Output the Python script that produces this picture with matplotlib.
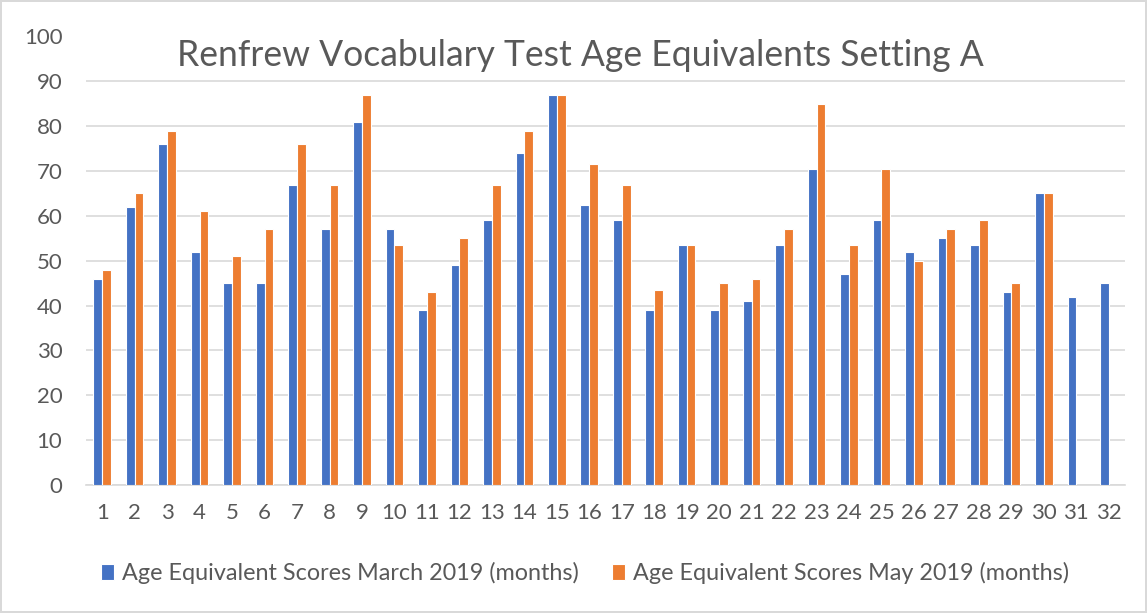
import matplotlib
matplotlib.use("Agg")
import matplotlib.pyplot as plt
import numpy as np

categories = [str(i) for i in range(1, 33)]
march_2019 = [46, 62, 76, 52, 45, 45, 67, 57, 81, 57, 39, 49, 59, 74, 87, 62.5,
              59, 39, 53.5, 39, 41, 53.5, 70.5, 47, 59, 52, 55, 53.5, 43, 65, 42, 45]
may_2019 = [48, 65, 79, 61, 51, 57, 76, 67, 87, 53.5, 43, 55, 67, 79, 87, 71.5,
            67, 43.5, 53.5, 45, 46, 57, 85, 53.5, 70.5, 50, 57, 59, 45, 65, None, None]
series_labels = ["Age Equivalent Scores March 2019 (months)",
                 "Age Equivalent Scores May 2019 (months)"]
title = "Renfrew Vocabulary Test Age Equivalents Setting A"
yticks = [0, 10, 20, 30, 40, 50, 60, 70, 80, 90, 100]

BLUE = "#4472C4"
ORANGE = "#ED7D31"
TXT = "#595959"
FONT = ["Lato", "DejaVu Sans"]
plt.rcParams["font.family"] = FONT

W, H = 1147, 613
fig = plt.figure(figsize=(W / 100, H / 100), dpi=100)
fig.patch.set_facecolor("white")
fig.patch.set_edgecolor("#D9D9D9")
fig.patch.set_linewidth(1.5)

ax = fig.add_axes([86 / W, 1 - 485 / H, (1125 - 86) / W, (485 - 36.5) / H])
x = np.arange(len(categories))
bw = 0.27
may_vals = [np.nan if v is None else v for v in may_2019]
ax.bar(x - bw / 2, march_2019, bw, color=BLUE, edgecolor="white", linewidth=0.8,
       label=series_labels[0], zorder=3)
ax.bar(x + bw / 2, may_vals, bw, color=ORANGE, edgecolor="white", linewidth=0.8,
       label=series_labels[1], zorder=3)

ax.set_xlim(-0.5, len(categories) - 0.5)
ax.set_ylim(0, 100)
ax.set_yticks(yticks)
ax.set_xticks(x)
ax.set_xticklabels(categories)
ax.grid(axis="y", color="#D9D9D9", linewidth=1.2, zorder=0)
ax.tick_params(axis="both", length=0, colors=TXT, labelsize=16)
ax.tick_params(axis="y", pad=17)
ax.tick_params(axis="x", pad=13)
for s in ["top", "right", "left"]:
    ax.spines[s].set_visible(False)
ax.spines["bottom"].set_color("#D9D9D9")
ax.spines["bottom"].set_linewidth(1.2)

ax.text(0.476, 0.934, title, transform=ax.transAxes, ha="center", va="baseline",
        fontsize=25.6, color=TXT, zorder=5)

fig.legend(loc="center", bbox_to_anchor=(0.51, 1 - 573 / H), ncol=2, frameon=False,
           fontsize=16.8, labelcolor=TXT, handlelength=0.55, handleheight=0.7,
           handletextpad=0.35, columnspacing=1.4)

fig.savefig("out.png", dpi=100)
